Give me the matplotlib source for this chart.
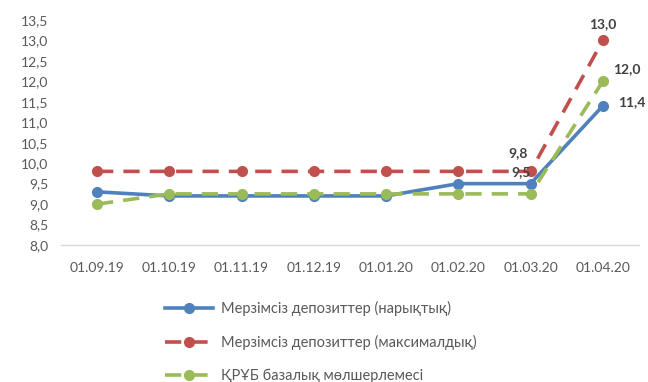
import matplotlib
matplotlib.use('Agg')
import matplotlib.pyplot as plt

plt.rcParams['font.family'] = ['Lato', 'Noto Sans', 'DejaVu Sans']

# Data
dates = ['01.09.19', '01.10.19', '01.11.19', '01.12.19', '01.01.20', '01.02.20', '01.03.20', '01.04.20']
market = [9.3, 9.2, 9.2, 9.2, 9.2, 9.5, 9.5, 11.4]
maximum = [9.8, 9.8, 9.8, 9.8, 9.8, 9.8, 9.8, 13.0]
base_rate = [9.0, 9.25, 9.25, 9.25, 9.25, 9.25, 9.25, 12.0]
labels = ['Мерзімсіз депозиттер (нарықтық)',
          'Мерзімсіз депозиттер (максималдық)',
          'ҚРҰБ базалық мөлшерлемесі']

blue = '#4F81BD'
red = '#C0504D'
green = '#9BBB59'

fig = plt.figure(figsize=(6.48, 3.82), dpi=100)
ax = fig.add_axes([0.094, 0.3586, 0.892, 0.589])

x = list(range(len(dates)))
l1, = ax.plot(x, market, color=blue, lw=2.6, marker='o', ms=7, label=labels[0], zorder=3)
l2, = ax.plot(x, maximum, color=red, lw=2.6, ls=(0, (4.5, 2.8)), marker='o', ms=7, label=labels[1], zorder=3)
l3, = ax.plot(x, base_rate, color=green, lw=2.6, ls=(0, (4.5, 2.8)), marker='o', ms=7, label=labels[2], zorder=4)

ax.set_xlim(-0.5, len(dates) - 0.5)
ax.set_ylim(8.0, 13.5)
ax.set_yticks([8.0 + 0.5 * i for i in range(12)])
ax.set_yticklabels([f'{8.0 + 0.5 * i:.1f}'.replace('.', ',') for i in range(12)])
ax.set_xticks(x)
ax.set_xticklabels(dates)
ax.tick_params(axis='both', length=0, labelsize=10, labelcolor='#595959')
ax.tick_params(axis='x', pad=12)
ax.tick_params(axis='y', pad=9)

for s in ['top', 'right', 'left']:
    ax.spines[s].set_visible(False)
ax.spines['bottom'].set_color('#D9D9D9')
ax.spines['bottom'].set_linewidth(1.0)

def fmt(v):
    return f'{v:.1f}'.replace('.', ',')

lab = dict(fontsize=10, fontweight='bold', color='#404040')
ax.annotate(fmt(maximum[6]), (6, maximum[6]), xytext=(-9, 13.5), textcoords='offset points', ha='center', va='center', **lab)
ax.annotate(fmt(market[6]), (6, market[6]), xytext=(-7, 8), textcoords='offset points', ha='center', va='center', **lab)
ax.annotate(fmt(maximum[7]), (7, maximum[7]), xytext=(0, 12), textcoords='offset points', ha='center', va='center', **lab)
ax.annotate(fmt(base_rate[7]), (7, base_rate[7]), xytext=(17, 9), textcoords='offset points', ha='center', va='center', **lab)
ax.annotate(fmt(market[7]), (7, market[7]), xytext=(21, 3), textcoords='offset points', ha='center', va='center', **lab)

leg = fig.legend(handles=[l1, l2, l3], loc='upper left', bbox_to_anchor=(0.255, 0.213),
                 frameon=False, fontsize=10.5, labelspacing=1.3, handlelength=3.3,
                 handletextpad=0.55, borderaxespad=0, borderpad=0)
for t in leg.get_texts():
    t.set_color('#595959')

fig.savefig('out.png', dpi=100)
